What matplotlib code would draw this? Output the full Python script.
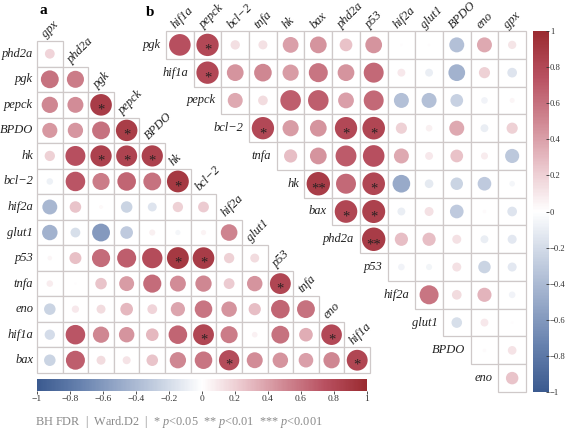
import matplotlib
matplotlib.use("Agg")
import matplotlib.pyplot as plt
from matplotlib.patches import Rectangle, Circle
from matplotlib.colors import LinearSegmentedColormap, Normalize
from matplotlib.cm import ScalarMappable
import numpy as np

plt.rcParams['font.family'] = ['Liberation Serif', 'DejaVu Serif']
plt.rcParams['mathtext.fontset'] = 'custom'
plt.rcParams['mathtext.it'] = 'Liberation Serif:italic'
plt.rcParams['mathtext.rm'] = 'Liberation Serif'

# ---------------- data ----------------
a_cols = ['gpx', 'phd2a', 'pgk', 'pepck', 'BPDO', 'hk', 'bcl\u22122', 'hif2a',
          'glut1', 'p53', 'tnfa', 'eno', 'hif1a']
a_rows = ['phd2a', 'pgk', 'pepck', 'BPDO', 'hk', 'bcl\u22122', 'hif2a', 'glut1',
          'p53', 'tnfa', 'eno', 'hif1a', 'bax']
a_r = [
    [0.18],
    [0.60, 0.55],
    [0.50, 0.48, 0.88],
    [0.43, 0.44, 0.60, 0.87],
    [0.20, 0.75, 0.85, 0.83, 0.85],
    [-0.08, 0.72, 0.55, 0.65, 0.60, 0.90],
    [-0.42, 0.25, 0.03, -0.25, -0.15, 0.20, 0.22],
    [-0.45, -0.18, -0.60, -0.30, 0.07, -0.05, 0.05, 0.52],
    [0.04, 0.27, 0.62, 0.68, 0.78, 0.90, 0.88, 0.20, 0.15],
    [0.08, 0.01, 0.25, 0.42, 0.62, 0.48, 0.50, 0.22, 0.45, 0.82],
    [-0.25, 0.10, 0.15, 0.30, 0.18, 0.38, 0.58, 0.45, 0.28, 0.65, 0.60],
    [-0.20, 0.72, 0.50, 0.45, 0.30, 0.65, 0.82, 0.55, 0.06, 0.60, 0.35, 0.80],
    [-0.25, 0.68, 0.15, 0.12, 0.25, 0.50, 0.58, 0.78, 0.48, 0.45, 0.40, 0.50, 0.82],
]
a_sig = [(2, 2, '*'), (3, 3, '*'), (4, 2, '*'), (4, 3, '*'), (4, 4, '*'),
         (5, 5, '*'), (8, 5, '*'), (8, 6, '*'), (9, 9, '*'), (11, 6, '*'),
         (11, 11, '*'), (12, 7, '*'), (12, 12, '*')]

b_cols = ['hif1a', 'pepck', 'bcl\u22122', 'tnfa', 'hk', 'bax', 'phd2a', 'p53',
          'hif2a', 'glut1', 'BPDO', 'eno', 'gpx']
b_rows = ['pgk', 'hif1a', 'pepck', 'bcl\u22122', 'tnfa', 'hk', 'bax', 'phd2a',
          'p53', 'hif2a', 'glut1', 'BPDO', 'eno']
b_r = [
    [0.75, 0.80, 0.14, 0.13, 0.40, 0.45, 0.26, 0.45, 0.01, 0.01, -0.36, 0.36, 0.11],
    [0.80, 0.45, 0.50, 0.42, 0.58, 0.45, 0.64, 0.10, -0.10, -0.45, 0.20, -0.15],
    [0.36, 0.15, 0.68, 0.68, 0.40, 0.64, -0.36, -0.36, -0.26, -0.07, 0.04],
    [0.80, 0.42, 0.45, 0.80, 0.82, 0.20, 0.07, 0.36, -0.10, 0.20],
    [0.28, 0.45, 0.70, 0.75, 0.36, 0.10, 0.26, 0.08, -0.32],
    [0.88, 0.64, 0.82, -0.50, -0.12, -0.25, -0.30, -0.05],
    [0.82, 0.85, -0.10, 0.13, -0.30, 0.02, -0.15],
    [0.88, 0.28, 0.28, 0.13, -0.10, -0.13],
    [-0.07, -0.06, 0.13, -0.25, -0.13],
    [0.58, 0.15, 0.32, -0.07],
    [-0.18, 0.10, 0.01],
    [0.02, 0.12],
    [0.25],
]
b_sig = [(0, 1, '*'), (1, 1, '*'), (3, 3, '*'), (3, 6, '*'), (3, 7, '*'),
         (5, 5, '**'), (5, 7, '*'), (6, 6, '*'), (6, 7, '*'), (7, 7, '**')]

cbar_ticks = [-1, -0.8, -0.6, -0.4, -0.2, 0, 0.2, 0.4, 0.6, 0.8, 1]
footer = "BH FDR  |  Ward.D2  |  * $p$<0.05  ** $p$<0.01  *** $p$<0.001"

# ---------------- style ----------------
cmap = LinearSegmentedColormap.from_list('corr', [
    (0.0, '#3b5a8f'), (0.125, '#6580ad'), (0.25, '#98aac9'), (0.375, '#c9d3e3'),
    (0.5, '#ffffff'),
    (0.625, '#eac5cb'), (0.75, '#d08893'), (0.875, '#b85060'), (1.0, '#9a2b30')])
norm = Normalize(-1, 1)
edge = '#cfc9c9'
lab_font = dict(family='Liberation Serif', style='italic', fontsize=9, color='#222222')

W, H = 567, 430
fig = plt.figure(figsize=(W / 100, H / 100), dpi=100)


def px_axes(x0, y0, x1, y1):
    return fig.add_axes([x0 / W, 1 - y1 / H, (x1 - x0) / W, (y1 - y0) / H])


def draw_panel(ax, rows, cols, vals, sig, lower):
    n = len(cols)
    ax.set_xlim(0, n)
    ax.set_ylim(n, 0)
    ax.axis('off')
    ax.patch.set_alpha(0)
    sigmap = {(i, j): m for i, j, m in sig}
    for i, rv in enumerate(vals):
        start = 0 if lower else i
        for k, v in enumerate(rv):
            j = start + k
            ax.add_patch(Rectangle((j, i), 1, 1, facecolor='white', edgecolor=edge,
                                   lw=0.9, clip_on=False))
            rad = 0.45 * np.sqrt(abs(v))
            ax.add_patch(Circle((j + 0.5, i + 0.5), rad, facecolor=cmap(norm(v)),
                                edgecolor='none', clip_on=False))
            if (i, j) in sigmap:
                ax.text(j + 0.5, i + 0.7, sigmap[(i, j)], ha='center', va='center',
                        fontsize=10.5, color='#2a2222')
    # row labels
    for i, lab in enumerate(rows):
        x = -0.15 if lower else i - 0.2
        ax.text(x, i + 0.5, lab, ha='right', va='center', **lab_font)
    # column labels
    for j, lab in enumerate(cols):
        y = j - 0.12 if lower else -0.07
        ax.text(j + 0.35, y, lab, ha='left', va='baseline', rotation=45,
                rotation_mode='anchor', **lab_font)


axA = px_axes(37, 41, 370, 373)
draw_panel(axA, a_rows, a_cols, a_r, a_sig, lower=True)
axB = px_axes(166, 31, 526, 392)
draw_panel(axB, b_rows, b_cols, b_r, b_sig, lower=False)

fig.text(43 / W, 1 - 11 / H, 'a', fontsize=11, fontweight='bold', ha='center', va='center')
fig.text(150 / W, 1 - 12 / H, 'b', fontsize=11, fontweight='bold', ha='center', va='center')


def fmt(v):
    s = f"{v:g}"
    return s.replace('-', '\u2212')


sm = ScalarMappable(norm=norm, cmap=cmap)
caxH = px_axes(37, 379, 367, 391)
cbH = fig.colorbar(sm, cax=caxH, orientation='horizontal')
cbH.outline.set_visible(False)
cbH.set_ticks(cbar_ticks)
cbH.set_ticklabels([fmt(t) for t in cbar_ticks])
caxH.tick_params(labelsize=6.8, length=2, width=0.6, pad=1, colors='#333333')

caxV = px_axes(533, 31, 549, 392)
cbV = fig.colorbar(sm, cax=caxV, orientation='vertical')
cbV.outline.set_visible(False)
cbV.set_ticks(cbar_ticks)
cbV.set_ticklabels([fmt(t) for t in cbar_ticks])
caxV.tick_params(labelsize=6.2, length=2, width=0.6, pad=0.8, direction='in',
                 colors='#333333')

fig.text(35 / W, 1 - 422 / H, footer, fontsize=8.8, color='#8a8a8a', ha='left', va='center')

fig.savefig('out.png', dpi=100)
